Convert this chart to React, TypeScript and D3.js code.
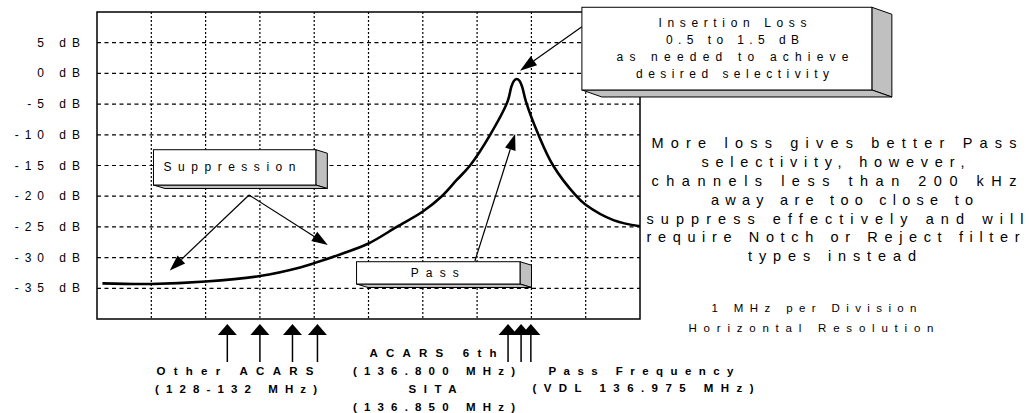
import * as d3 from "d3";

// filter response: frequency in divisions (1 MHz / division) vs level in dB
const freqDiv = [0.1, 1, 2, 3, 3.74, 4, 4.5, 5, 5.52, 6, 6.35, 6.62, 6.87, 7.24, 7.56, 7.63, 7.68, 7.73, 7.78, 7.83, 7.9, 8.13, 8.4, 8.83, 9.0, 9.51, 10];
const levelDb = [-34.2, -34.3, -33.9, -33.0, -31.6, -30.9, -29.4, -27.7, -25.0, -22.5, -20.0, -17.4, -15.0, -10.0, -4.6, -2.2, -1.2, -0.9, -1.2, -2.2, -4.6, -10.0, -15.0, -20.0, -21.4, -23.9, -24.9];

const yTicks = [5, 0, -5, -10, -15, -20, -25, -30, -35];
const yTickLabels = ["5 dB", "0 dB", "-5 dB", "-10 dB", "-15 dB", "-20 dB", "-25 dB", "-30 dB", "-35 dB"];
const xGrid = [1, 2, 3, 4, 5, 6, 7, 8, 9];

const otherAcarsMarks = [2.4, 3.0, 3.6, 4.06];
const passMarks = [7.57, 7.81, 7.99];

const insertionLines = ["Insertion Loss", "0.5 to 1.5 dB", "as needed to achieve", "desired selectivity"];
const insertionWidths = [148, 133, 232, 193];
const noteLines = [
  "More loss gives better Pass",
  "selectivity, however,",
  "channels less than 200 kHz",
  "away are too close to",
  "suppress effectively and will",
  "require Notch or Reject filter",
  "types instead",
];
const noteWidths = [365, 263, 365, 262, 377, 373, 168];
const noteCenters = [834, 833, 834, 842, 835, 833, 832];

const FONT = "'Liberation Sans', Arial, sans-serif";

function Arrow({ x1, y1, x2, y2, len = 15, half = 5, sw = 1.2 }: any) {
  const dx = x2 - x1, dy = y2 - y1;
  const L = Math.hypot(dx, dy);
  const ux = dx / L, uy = dy / L;
  const bx = x2 - ux * len, by = y2 - uy * len;
  const px = -uy, py = ux;
  const pts = [
    [x2, y2],
    [bx + px * half, by + py * half],
    [bx - px * half, by - py * half],
  ];
  return (
    <g>
      <line x1={x1} y1={y1} x2={bx} y2={by} stroke="#000" strokeWidth={sw} />
      <polygon points={pts.map((p) => p.join(",")).join(" ")} fill="#000" />
    </g>
  );
}

function Box3D({ x0, y0, x1, y1, dx, dy }: any) {
  const side = [[x1, y0], [x1 + dx, y0 + dy], [x1 + dx, y1 + dy], [x1, y1]];
  const bottom = [[x0, y1], [x1, y1], [x1 + dx, y1 + dy], [x0 + dx, y1 + dy]];
  const pts = (a: number[][]) => a.map((p) => p.join(",")).join(" ");
  return (
    <g stroke="#000" strokeWidth={1}>
      <polygon points={pts(side)} fill="#c0c0c0" />
      <polygon points={pts(bottom)} fill="#c0c0c0" />
      <rect x={x0} y={y0} width={x1 - x0} height={y1 - y0} fill="#fff" />
    </g>
  );
}

export default function App() {
  const x = d3.scaleLinear().domain([0, 10]).range([97, 640]);
  const y = d3.scaleLinear().domain([-40, 10]).range([319, 12]);

  const line = d3
    .line<number>()
    .x((_, i) => x(freqDiv[i]))
    .y((d) => y(d))
    .curve(d3.curveCatmullRom.alpha(0.5));

  // annotation anchors in data units
  const sup = { x0: x(1.04), x1: x(4.03), y0: y(-12.43), y1: y(-18.18) };
  const pas = { x0: x(4.78), x1: x(7.79), y0: y(-30.67), y1: y(-34.3) };
  const ins = { x0: x(8.93), x1: x(14.27), y0: y(10.77), y1: y(-2.7) };

  return (
    <svg width={1029} height={413} style={{ position: "absolute", left: 0, top: 0, background: "#fff" }} fontFamily={FONT}>
      {/* grid */}
      {yTicks.map((t) => (
        <line key={"h" + t} x1={x(0)} x2={x(10)} y1={y(t)} y2={y(t)} stroke="#000" strokeWidth={1.2} strokeDasharray="4,3.5" />
      ))}
      {xGrid.map((t) => (
        <line key={"v" + t} x1={x(t)} x2={x(t)} y1={y(10)} y2={y(-40)} stroke="#000" strokeWidth={1.2} strokeDasharray="2,2" />
      ))}
      <rect x={x(0)} y={y(10)} width={x(10) - x(0)} height={y(-40) - y(10)} fill="none" stroke="#000" strokeWidth={1.5} />

      {/* y labels */}
      {yTicks.map((t, i) => (
        <text key={"l" + t} x={86} y={y(t)} textAnchor="end" dominantBaseline="central" fontSize={12} style={{ whiteSpace: "pre", letterSpacing: "6px" }}>
          {yTickLabels[i]}
        </text>
      ))}

      {/* response curve */}
      <path d={line(levelDb) || ""} fill="none" stroke="#000" strokeWidth={2.6} strokeLinejoin="round" />

      {/* suppression */}
      <Box3D {...sup} dx={11.5} dy={3.5} />
      <text x={sup.x0 + 10} y={(sup.y0 + sup.y1) / 2} dominantBaseline="central" fontSize={12} textLength={132} lengthAdjust="spacing">
        Suppression
      </text>
      <Arrow x1={x(2.8)} y1={y(-19.8)} x2={x(1.34)} y2={y(-32.1)} len={16} half={5.5} />
      <Arrow x1={x(2.8)} y1={y(-19.8)} x2={x(4.25)} y2={y(-27.95)} len={16} half={5.5} />

      {/* pass */}
      <Arrow x1={x(6.96)} y1={y(-30.55)} x2={x(7.7)} y2={y(-9.87)} len={16} half={5.5} />
      <Box3D {...pas} dx={11.5} dy={3.5} />
      <text x={x(6.22)} y={(pas.y0 + pas.y1) / 2} textAnchor="middle" dominantBaseline="central" fontSize={12} textLength={48} lengthAdjust="spacing">
        Pass
      </text>

      {/* insertion loss */}
      <Arrow x1={x(8.93)} y1={y(7.6)} x2={x(7.79)} y2={y(0.44)} len={17} half={5.5} />
      <Box3D {...ins} dx={20} dy={7} />
      {insertionLines.map((s, i) => (
        <text key={s} x={732.5} y={22.7 + i * 17.1} textAnchor="middle" dominantBaseline="central" fontSize={12} textLength={insertionWidths[i]} lengthAdjust="spacing">
          {s}
        </text>
      ))}

      {/* channel markers */}
      {otherAcarsMarks.concat(passMarks).map((m) => (
        <Arrow key={"m" + m} x1={x(m)} y1={362} x2={x(m)} y2={324} len={11} half={9.5} sw={1.5} />
      ))}

      <g fontWeight="bold" fontSize={11.5} textAnchor="middle" dominantBaseline="central">
        <text x={235} y={370.7} textLength={157} lengthAdjust="spacing">Other ACARS</text>
        <text x={236} y={389} textLength={162} lengthAdjust="spacing">(128-132 MHz)</text>
        <text x={433} y={353.3} textLength={127} lengthAdjust="spacing">ACARS 6th</text>
        <text x={434} y={370.7} textLength={162} lengthAdjust="spacing">(136.800 MHz)</text>
        <text x={432.5} y={389} textLength={48} lengthAdjust="spacing">SITA</text>
        <text x={434} y={406.7} textLength={162} lengthAdjust="spacing">(136.850 MHz)</text>
        <text x={641} y={370.7} textLength={185} lengthAdjust="spacing">Pass Frequency</text>
        <text x={643} y={388.3} textLength={221} lengthAdjust="spacing">(VDL 136.975 MHz)</text>
      </g>

      {/* notes */}
      {noteLines.map((s, i) => (
        <text key={s} x={noteCenters[i]} y={143.3 + i * 18.8} textAnchor="middle" dominantBaseline="central" fontSize={14.5} textLength={noteWidths[i]} lengthAdjust="spacing">
          {s}
        </text>
      ))}
      <text x={814} y={308.3} textAnchor="middle" dominantBaseline="central" fontSize={11.5} textLength={205} lengthAdjust="spacing">
        1 MHz per Division
      </text>
      <text x={811} y={328.3} textAnchor="middle" dominantBaseline="central" fontSize={11.5} textLength={245} lengthAdjust="spacing">
        Horizontal Resolution
      </text>
    </svg>
  );
}
